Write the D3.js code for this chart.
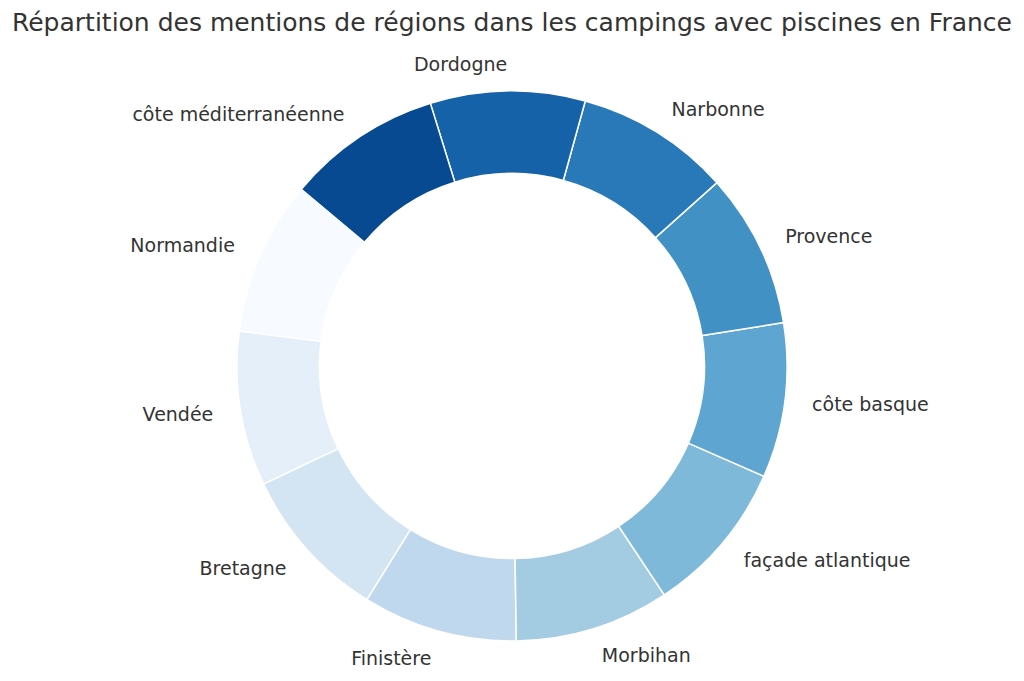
<!DOCTYPE html>
<html>
<head>
<meta charset="utf-8">
<script src="https://cdn.jsdelivr.net/npm/d3@7"></script>
<style>
  body { margin: 0; background: #fff; }
  svg { display: block; font-family: "DejaVu Sans", sans-serif; }
</style>
</head>
<body>
<div id="chart"></div>
<script>
// regions, in drawing order (counter-clockwise from the upper left)
const regions = [
  "Normandie", "Vendée", "Bretagne", "Finistère", "Morbihan",
  "façade atlantique", "côte basque", "Provence", "Narbonne",
  "Dordogne", "côte méditerranéenne"
];
const mentions = [1, 1, 1, 1, 1, 1, 1, 1, 1, 1, 1];
const titleText = "Répartition des mentions de régions dans les campings avec piscines en France";

const width = 1024;
const height = 681;
const cx = 512, cy = 366;
const outerR = 275, innerR = 192.5;
const labelR = outerR * 1.1;

const data = regions.map((r, i) => ({ region: r, value: mentions[i] }));

// matplotlib "Blues"
const blues = d3.piecewise(d3.interpolateRgb, [
  "#f7fbff", "#deebf7", "#c6dbef", "#9ecae1", "#6baed6",
  "#4292c6", "#2171b5", "#08519c", "#08306b"
]);
const color = (i) => blues(i * 0.09);

const svg = d3.select("#chart").append("svg")
  .attr("width", width)
  .attr("height", height);

svg.append("text")
  .attr("x", width / 2)
  .attr("y", 31)
  .attr("text-anchor", "middle")
  .style("font-size", "25px")
  .attr("fill", "#333333")
  .text(titleText);

// start at 140° (math angle), counter-clockwise
const start = (90 - 140) * Math.PI / 180;
const pie = d3.pie()
  .sort(null)
  .value((d) => d.value)
  .startAngle(start)
  .endAngle(start - 2 * Math.PI);

const arcs = pie(data);

const arc = d3.arc().innerRadius(innerR).outerRadius(outerR);

const g = svg.append("g").attr("transform", `translate(${cx},${cy})`);

g.selectAll("path")
  .data(arcs)
  .enter()
  .append("path")
  .attr("d", arc)
  .attr("fill", (d, i) => color(i))
  .attr("stroke", "#ffffff")
  .attr("stroke-width", 1.5);

// labels at 1.1 x radius, like matplotlib
g.selectAll("text.label")
  .data(arcs)
  .enter()
  .append("text")
  .attr("class", "label")
  .each(function (d) {
    const a = (d.startAngle + d.endAngle) / 2;
    const x = labelR * Math.sin(a);
    const y = -labelR * Math.cos(a);
    d3.select(this)
      .attr("x", x)
      .attr("y", y)
      .attr("text-anchor", x < 0 ? "end" : "start");
  })
  .attr("dominant-baseline", "central")
  .style("font-size", "19px")
  .attr("fill", "#333333")
  .text((d) => d.data.region);
</script>
</body>
</html>
